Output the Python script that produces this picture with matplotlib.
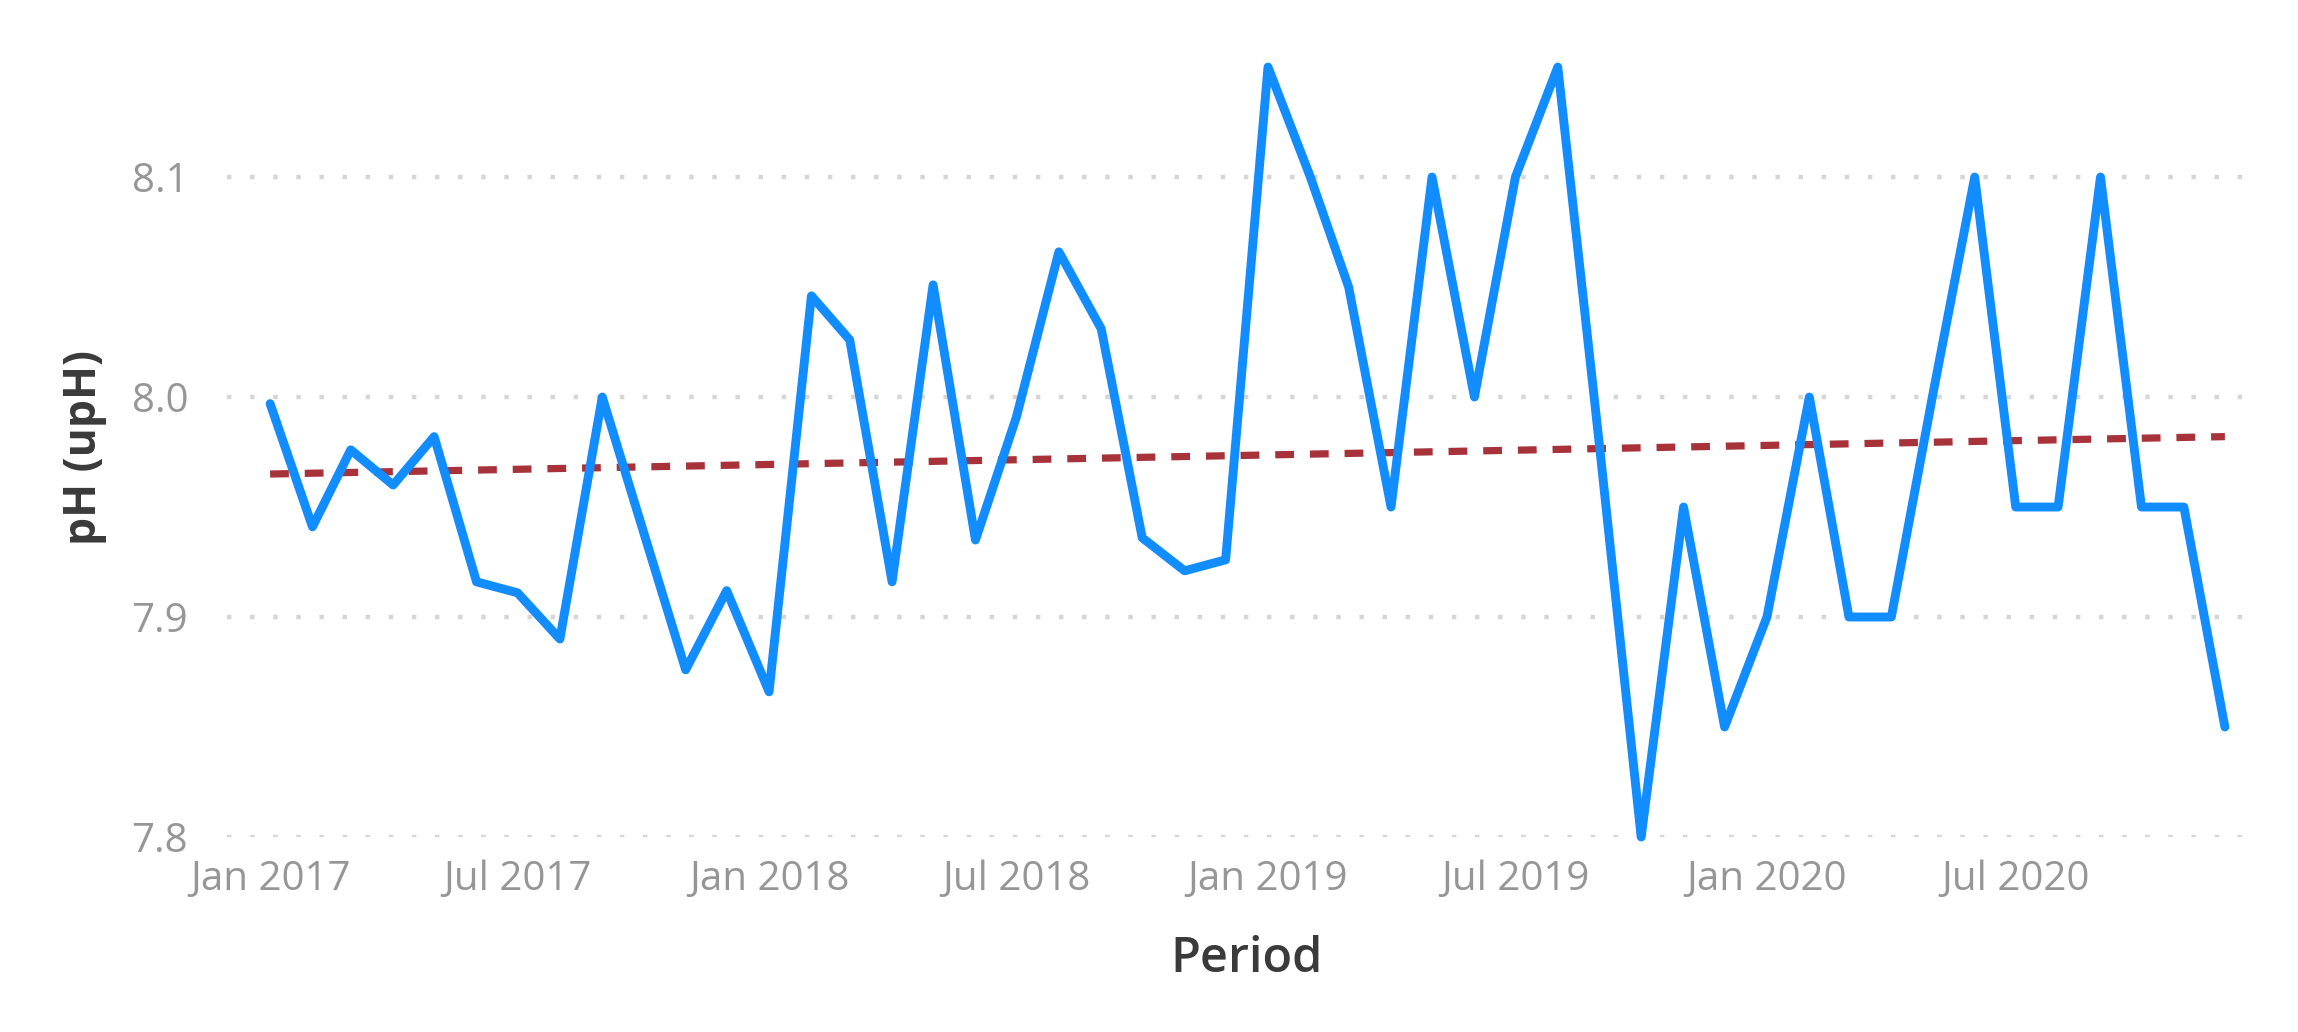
import matplotlib
matplotlib.use("Agg")
import matplotlib.pyplot as plt
import matplotlib.dates as mdates
import pandas as pd
import numpy as np

# ---- data ----
periods = pd.date_range("2017-01-01", periods=48, freq="MS")
ph_values = [7.997, 7.941, 7.976, 7.960, 7.982, 7.916, 7.911, 7.890, 8.000, 7.939,
             7.876, 7.912, 7.866, 8.046, 8.026, 7.916, 8.051, 7.935, 7.991, 8.066,
             8.031, 7.936, 7.921, 7.926, 8.150, 8.100, 8.050, 7.950, 8.100, 8.000,
             8.100, 8.150, 7.975, 7.800, 7.950, 7.850, 7.900, 8.000, 7.900, 7.900,
             8.000, 8.100, 7.950, 7.950, 8.100, 7.950, 7.950, 7.850]
trend_values = [7.965, 7.982]          # trend line at first and last period
y_ticks = [7.8, 7.9, 8.0, 8.1]
y_tick_labels = ["7.8", "7.9", "8.0", "8.1"]
x_tick_dates = pd.date_range("2017-01-01", "2020-07-01", freq="6MS")
x_label = "Period"
y_label = "pH (upH)"

# ---- figure ----
plt.rcParams['font.family'] = ['Open Sans', 'DejaVu Sans']
fig = plt.figure(figsize=(22.98, 10.32), dpi=100)
ax = fig.add_axes([0.0988, 0.18895, 0.8786, 0.7674])

ax.plot(periods, ph_values, color="#118DFF", lw=6.4, solid_joinstyle="round",
        solid_capstyle="round", clip_on=False, zorder=3)
ax.plot([periods[0], periods[-1]], trend_values, color="#A8323A", lw=5.2,
        dashes=(2.6, 2.2), zorder=2)

ax.set_ylim(7.8, 8.16)
ax.set_xlim(periods[0] - pd.Timedelta(days=31.5), periods[-1] + pd.Timedelta(days=15.5))

ax.set_yticks(y_ticks)
ax.set_yticklabels(y_tick_labels)
ax.set_xticks(x_tick_dates)
ax.xaxis.set_major_formatter(mdates.DateFormatter("%b %Y"))

for s in ax.spines.values():
    s.set_visible(False)
ax.tick_params(axis="both", length=0, labelsize=29, labelcolor="#969696")
ax.tick_params(axis="y", pad=28)
ax.tick_params(axis="x", pad=16)

ax.grid(axis="y", color="#d6d6d6", lw=3.2, linestyle=(0, (1, 4.2)))
ax.grid(axis="x", visible=False)
ax.set_axisbelow(True)

ax.set_xlabel(x_label, fontsize=35, color="#3a3a3a", fontweight="semibold")
ax.xaxis.set_label_coords(0.505, -0.155)
ax.xaxis.label.set_va("center")
ax.set_ylabel(y_label, fontsize=32, color="#3a3a3a", fontweight="bold")
ax.yaxis.set_label_coords(-0.0708, 0.492)
ax.yaxis.label.set_va("center")

fig.savefig("out.png", dpi=100, facecolor="white")
